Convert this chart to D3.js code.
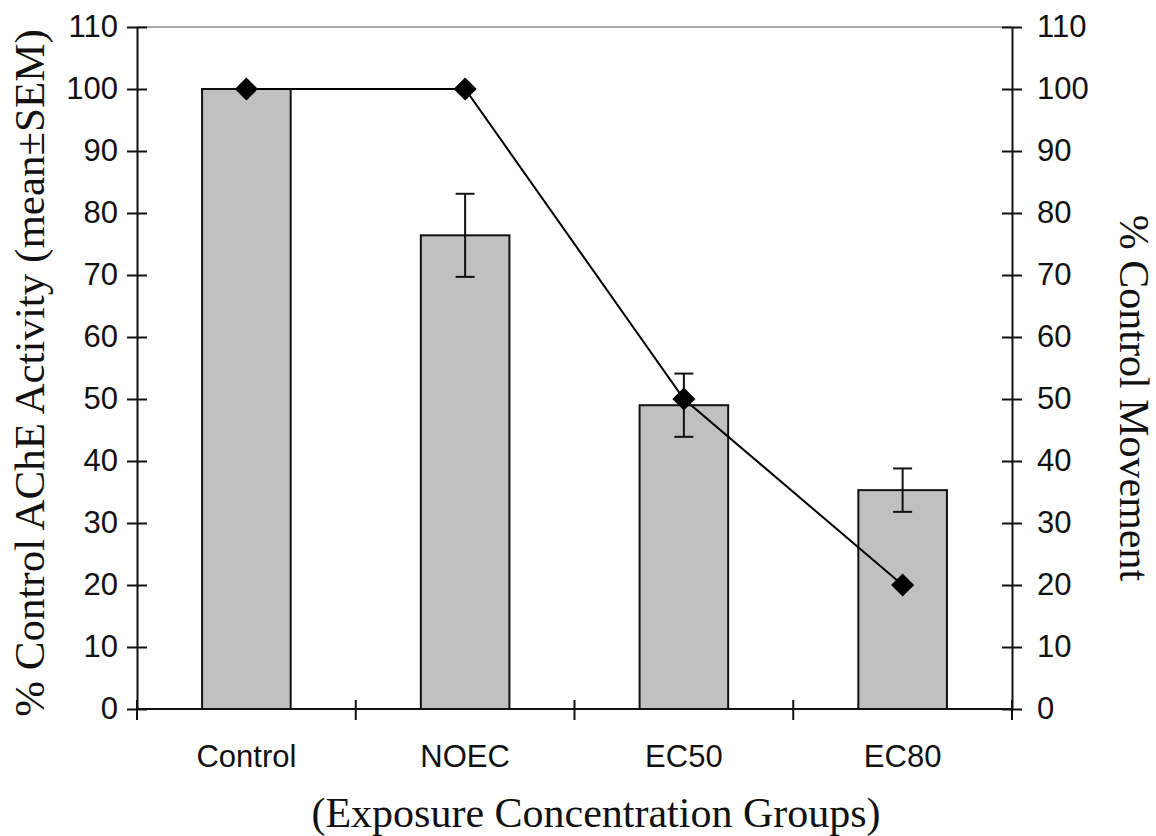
<!DOCTYPE html>
<html>
<head>
<meta charset="utf-8">
<script src="https://cdn.jsdelivr.net/npm/d3@7"></script>
<style>
  body { margin: 0; background: #fff; }
  svg { display: block; }
</style>
</head>
<body>
<div id="vis"></div>
<script>
// data
var groups = ["Control", "NOEC", "EC50", "EC80"];
var ache = [100, 76.4, 49.0, 35.3];       // bars, left axis
var acheSem = [0, 6.7, 5.1, 3.5];          // error bar half-heights
var movement = [100, 100, 50, 20];         // line, right axis
var yTicks = [0, 10, 20, 30, 40, 50, 60, 70, 80, 90, 100, 110];

var W = 1156, H = 836;
var margin = {top: 27, right: 144, bottom: 127, left: 137};
var width = W - margin.left - margin.right;
var height = H - margin.top - margin.bottom;

var svg = d3.select("#vis").append("svg")
  .attr("width", W).attr("height", H);

var g = svg.append("g")
  .attr("transform", "translate(" + margin.left + "," + margin.top + ")");

var x = d3.scaleBand().domain(groups).range([0, width]).paddingInner(0).paddingOuter(0);
var bw = x.bandwidth() * 0.405;

var yL = d3.scaleLinear().domain([0, 110]).range([height, 0]);
var yR = d3.scaleLinear().domain([0, 110]).range([height, 0]);

// top border line
g.append("line")
  .attr("x1", 0).attr("x2", width).attr("y1", 0).attr("y2", 0)
  .attr("stroke", "#888").attr("stroke-width", 1.5);

// bars
var data = groups.map((d, i) => ({g: d, v: ache[i], e: acheSem[i], m: movement[i]}));

g.selectAll("rect.bar").data(data).enter().append("rect")
  .attr("class", "bar")
  .attr("x", d => x(d.g) + x.bandwidth() / 2 - bw / 2)
  .attr("width", bw)
  .attr("y", d => yL(d.v))
  .attr("height", d => yL(0) - yL(d.v))
  .attr("fill", "#c0c0c0")
  .attr("stroke", "#111")
  .attr("stroke-width", 2);

// error bars
var eb = g.selectAll("g.err").data(data.filter(d => d.e > 0)).enter().append("g")
  .attr("stroke", "#111").attr("stroke-width", 2);
eb.append("line")
  .attr("x1", d => x(d.g) + x.bandwidth() / 2)
  .attr("x2", d => x(d.g) + x.bandwidth() / 2)
  .attr("y1", d => yL(d.v + d.e))
  .attr("y2", d => yL(d.v - d.e));
[1, -1].forEach(s => {
  eb.append("line")
    .attr("x1", d => x(d.g) + x.bandwidth() / 2 - 9.5)
    .attr("x2", d => x(d.g) + x.bandwidth() / 2 + 9.5)
    .attr("y1", d => yL(d.v + s * d.e))
    .attr("y2", d => yL(d.v + s * d.e));
});

// line + diamonds
g.append("path")
  .datum(data)
  .attr("fill", "none")
  .attr("stroke", "#000")
  .attr("stroke-width", 2)
  .attr("d", d3.line()
    .x(d => x(d.g) + x.bandwidth() / 2)
    .y(d => yR(d.m)));

g.selectAll("path.pt").data(data).enter().append("path")
  .attr("class", "pt")
  .attr("d", d3.symbol().type(d3.symbolDiamond2).size(340))
  .attr("transform", d => "translate(" + (x(d.g) + x.bandwidth() / 2) + "," + yR(d.m) + ")")
  .attr("fill", "#000");

// axes
var tickFont = "'Liberation Sans', Arial, sans-serif";
var serif = "'Liberation Serif', 'Times New Roman', serif";

var axL = g.append("g")
  .call(d3.axisLeft(yL).tickValues(yTicks).tickSize(0).tickPadding(19));
var axR = g.append("g").attr("transform", "translate(" + width + ",0)")
  .call(d3.axisRight(yR).tickValues(yTicks).tickSize(0).tickPadding(25));
[axL, axR].forEach(a => {
  a.select(".domain").attr("stroke", "#111").attr("stroke-width", 2);
  a.selectAll(".tick text").attr("font-family", tickFont).attr("font-size", 31).attr("fill", "#111");
  a.selectAll(".tick").append("line")
    .attr("x1", -10).attr("x2", 10)
    .attr("stroke", "#111").attr("stroke-width", 2);
});

// x axis with ticks at category boundaries
var axB = g.append("g").attr("transform", "translate(0," + height + ")");
axB.append("line").attr("x1", 0).attr("x2", width)
  .attr("stroke", "#111").attr("stroke-width", 2);
var bounds = groups.map(d => x(d)).concat([width]);
axB.selectAll("line.tk").data(bounds).enter().append("line")
  .attr("class", "tk")
  .attr("x1", d => d).attr("x2", d => d)
  .attr("y1", -9).attr("y2", 11)
  .attr("stroke", "#111").attr("stroke-width", 2);
axB.selectAll("text").data(groups).enter().append("text")
  .attr("x", d => x(d) + x.bandwidth() / 2)
  .attr("y", 58)
  .attr("text-anchor", "middle")
  .attr("font-family", tickFont).attr("font-size", 31).attr("fill", "#111")
  .text(d => d);

// titles
svg.append("text")
  .attr("transform", "translate(596,827)")
  .attr("text-anchor", "middle")
  .attr("font-family", serif).attr("font-size", 42).attr("fill", "#111")
  .text("(Exposure Concentration Groups)");

svg.append("text")
  .attr("transform", "translate(44,373) rotate(-90)")
  .attr("text-anchor", "middle")
  .attr("font-family", serif).attr("font-size", 43).attr("fill", "#111")
  .text("% Control AChE Activity (mean\u00b1SEM)");

svg.append("text")
  .attr("transform", "translate(1120,398) rotate(90)")
  .attr("text-anchor", "middle")
  .attr("font-family", serif).attr("font-size", 42).attr("fill", "#111")
  .text("% Control Movement");
</script>
</body>
</html>
